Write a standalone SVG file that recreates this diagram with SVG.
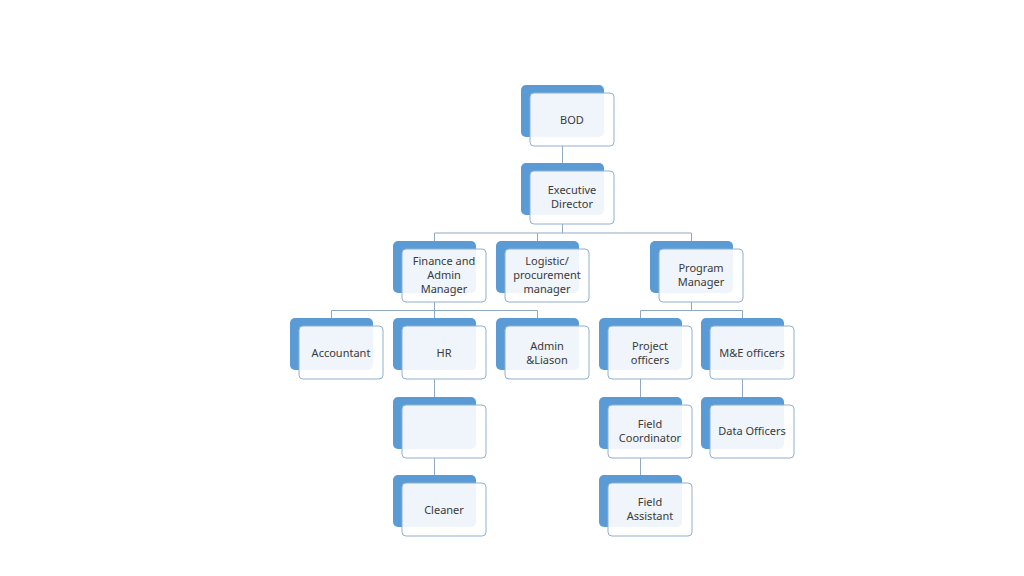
<svg xmlns="http://www.w3.org/2000/svg" width="1024" height="576" viewBox="0 0 1024 576">
<style>
.back{fill:#5B9BD5;}
.front{fill:#ffffff;fill-opacity:0.9;stroke:#8FB0CF;stroke-width:1;}
.lbl{font-family:"Noto Sans","Open Sans",sans-serif;font-size:11px;fill:#3A3A3A;text-anchor:middle;}
.con{fill:none;stroke:#8FA9C2;stroke-width:1;}
</style>
<rect width="1024" height="576" fill="#ffffff"/>
<g id="connectors">
<path class="con" d="M562.5 146V163"/>
<path class="con" d="M562.5 224V233M434.5 241V233H691.5V241M537.5 233V241"/>
<path class="con" d="M434.5 302V310.5M331.5 318V310.5H537.5V318M434.5 310.5V318"/>
<path class="con" d="M434.5 379V397M434.5 458V475"/>
<path class="con" d="M691.5 302V310.5M640.5 318V310.5H742.5V318"/>
<path class="con" d="M640.5 379V397M640.5 458V475M742.5 379V397"/>
</g>
<g id="bod"><rect class="back" x="521" y="85" width="83" height="52" rx="5"/><rect class="front" x="530" y="93" width="84" height="53" rx="4"/><text class="lbl" x="572" y="123.5">BOD</text></g>
<g id="executive-director"><rect class="back" x="521" y="163" width="83" height="52" rx="5"/><rect class="front" x="530" y="171" width="84" height="53" rx="4"/><text class="lbl" x="572" y="194">Executive</text><text class="lbl" x="572" y="208">Director</text></g>
<g id="finance"><rect class="back" x="393" y="241" width="83" height="52" rx="5"/><rect class="front" x="402" y="249" width="84" height="53" rx="4"/><text class="lbl" x="444" y="265">Finance and</text><text class="lbl" x="444" y="279">Admin</text><text class="lbl" x="444" y="293">Manager</text></g>
<g id="logistic"><rect class="back" x="496" y="241" width="83" height="52" rx="5"/><rect class="front" x="505" y="249" width="84" height="53" rx="4"/><text class="lbl" x="547" y="265">Logistic/</text><text class="lbl" x="547" y="279">procurement</text><text class="lbl" x="547" y="293">manager</text></g>
<g id="program-manager"><rect class="back" x="650" y="241" width="83" height="52" rx="5"/><rect class="front" x="659" y="249" width="84" height="53" rx="4"/><text class="lbl" x="701" y="272">Program</text><text class="lbl" x="701" y="286">Manager</text></g>
<g id="accountant"><rect class="back" x="290" y="318" width="83" height="52" rx="5"/><rect class="front" x="299" y="326" width="84" height="53" rx="4"/><text class="lbl" x="341" y="356.5">Accountant</text></g>
<g id="hr"><rect class="back" x="393" y="318" width="83" height="52" rx="5"/><rect class="front" x="402" y="326" width="84" height="53" rx="4"/><text class="lbl" x="444" y="356.5">HR</text></g>
<g id="admin-liason"><rect class="back" x="496" y="318" width="83" height="52" rx="5"/><rect class="front" x="505" y="326" width="84" height="53" rx="4"/><text class="lbl" x="547" y="349.5">Admin</text><text class="lbl" x="547" y="363.5">&amp;Liason</text></g>
<g id="project-officers"><rect class="back" x="599" y="318" width="83" height="52" rx="5"/><rect class="front" x="608" y="326" width="84" height="53" rx="4"/><text class="lbl" x="650" y="349.5">Project</text><text class="lbl" x="650" y="363.5">officers</text></g>
<g id="me-officers"><rect class="back" x="701" y="318" width="83" height="52" rx="5"/><rect class="front" x="710" y="326" width="84" height="53" rx="4"/><text class="lbl" x="752" y="356.5">M&amp;E officers</text></g>
<g id="blank"><rect class="back" x="393" y="397" width="83" height="52" rx="5"/><rect class="front" x="402" y="405" width="84" height="53" rx="4"/></g>
<g id="field-coordinator"><rect class="back" x="599" y="397" width="83" height="52" rx="5"/><rect class="front" x="608" y="405" width="84" height="53" rx="4"/><text class="lbl" x="650" y="428">Field</text><text class="lbl" x="650" y="442">Coordinator</text></g>
<g id="data-officers"><rect class="back" x="701" y="397" width="83" height="52" rx="5"/><rect class="front" x="710" y="405" width="84" height="53" rx="4"/><text class="lbl" x="752" y="435">Data Officers</text></g>
<g id="cleaner"><rect class="back" x="393" y="475" width="83" height="52" rx="5"/><rect class="front" x="402" y="483" width="84" height="53" rx="4"/><text class="lbl" x="444" y="513.5">Cleaner</text></g>
<g id="field-assistant"><rect class="back" x="599" y="475" width="83" height="52" rx="5"/><rect class="front" x="608" y="483" width="84" height="53" rx="4"/><text class="lbl" x="650" y="506">Field</text><text class="lbl" x="650" y="520">Assistant</text></g>
</svg>
